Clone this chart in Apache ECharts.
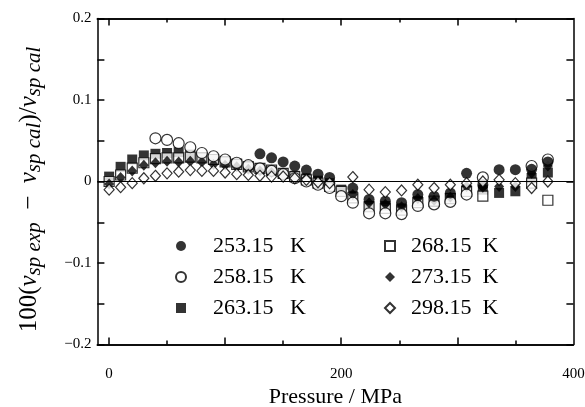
<!DOCTYPE html>
<html><head><meta charset="utf-8">
<script src="https://cdn.jsdelivr.net/npm/echarts@6/dist/echarts.min.js"></script>
<style>html,body{margin:0;padding:0;background:#fff}#c{width:585px;height:407px}</style>
</head><body><div id="c"></div>
<script>
const seriesNames = ['253.15 K','258.15 K','263.15 K','268.15 K','273.15 K','298.15 K'];

const p253 = [130,140,150,160,170,180,190,210,224,238,252,266,280,294,308,322,336,350,364,378];
const v253 = [0.034,0.029,0.024,0.019,0.014,0.009,0.005,-0.008,-0.022,-0.024,-0.026,-0.016,-0.018,-0.014,0.010,-0.004,0.0145,0.0145,0.015,0.024];

const p258 = [40,50,60,70,80,90,100,110,120,130,140,150,160,170,180,190,200,210,224,238,252,266,280,294,308,322,364,378];
const v258 = [0.053,0.051,0.047,0.042,0.035,0.031,0.027,0.023,0.020,0.016,0.013,0.009,0.004,0.000,-0.004,-0.008,-0.018,-0.026,-0.039,-0.039,-0.040,-0.030,-0.028,-0.025,-0.016,0.005,0.019,0.027];

const p263 = [0.1,10,20,30,40,50,60,70,80,90,100,110,120,130,140,150,160,170,180,190,200,210,224,238,252,266,280,294,308,322,336,350,364,378];
const v263 = [0.006,0.018,0.027,0.032,0.034,0.035,0.036,0.033,0.030,0.027,0.025,0.022,0.019,0.016,0.013,0.010,0.007,0.004,0.001,-0.002,-0.010,-0.018,-0.030,-0.030,-0.033,-0.024,-0.025,-0.020,-0.010,-0.010,-0.014,-0.012,0.004,0.011];

const p268 = [0.1,10,20,30,40,50,60,70,80,90,100,110,120,130,140,150,160,170,180,190,200,210,224,238,252,266,280,294,308,322,364,378];
const v268 = [0.000,0.008,0.0165,0.023,0.028,0.029,0.029,0.030,0.029,0.027,0.024,0.021,0.018,0.016,0.014,0.010,0.006,0.002,-0.002,-0.006,-0.012,-0.020,-0.031,-0.033,-0.035,-0.026,-0.024,-0.021,-0.012,-0.018,-0.002,-0.023];

const p273 = [0.1,10,20,30,40,50,60,70,80,90,100,110,120,130,140,150,160,170,180,190,210,224,238,252,266,280,294,308,322,336,350,364,378];
const v273 = [-0.003,0.005,0.013,0.020,0.023,0.025,0.024,0.025,0.024,0.021,0.020,0.018,0.015,0.013,0.011,0.008,0.005,0.003,0.000,-0.003,-0.016,-0.026,-0.028,-0.031,-0.021,-0.023,-0.019,-0.006,-0.007,-0.006,-0.006,0.010,0.019];

const p298 = [0.1,10,20,30,40,50,60,70,80,90,100,110,120,130,140,150,160,170,180,190,210,224,238,252,266,280,294,308,322,336,350,364,378];
const v298 = [-0.010,-0.007,-0.002,0.004,0.007,0.010,0.012,0.014,0.013,0.013,0.011,0.009,0.008,0.007,0.006,0.006,0.004,0.002,-0.001,-0.002,0.0055,-0.010,-0.013,-0.011,-0.004,-0.008,-0.004,-0.002,0.000,0.002,-0.002,-0.008,0.000];

const xTickLabels = [0,200,400];
const xMajorTicks = [0,100,200,300];
const xMinorTicks = [50,150,250,350];
const yTickLabels = [-0.2,-0.1,0,0.1,0.2];

const FONT = 'Liberation Serif';
const zip = (p, v) => p.map((x, i) => [x, v[i]]);
const filled = {color:'#000'};
const open = {color:'#fff', borderColor:'#000', borderWidth:1.2};

const chart = echarts.init(document.getElementById('c'), null, {renderer:'canvas'});
const gridPos = {left:97.4, right:11.6, top:18.5, bottom:62.5, containLabel:false, outerBoundsMode:'none'};
const lineS = {color:'#000', width:1.5};

function xAx(pos, ticks, len, labels, extra) {
  return Object.assign({
    type:'value', gridIndex:0, position:pos, min:-10, max:400,
    axisLine:{show:true, onZero:false, lineStyle:lineS},
    axisTick:{show:true, inside:true, length:len, customValues:ticks, lineStyle:lineS},
    axisLabel: labels ? {show:true, customValues:labels, margin:22, fontSize:15, fontFamily:FONT, color:'#000'} : {show:false},
    splitLine:{show:false}
  }, extra || {});
}

const option = {
  animation:false,
  backgroundColor:'#fff',
  grid:[Object.assign({}, gridPos), Object.assign({}, gridPos)],
  xAxis:[
    xAx('bottom', xMajorTicks, 7, xTickLabels, {
      name:'Pressure / MPa', nameLocation:'middle', nameGap:42,
      nameTextStyle:{fontSize:22, fontFamily:FONT, color:'#000'}
    }),
    xAx('top', xMajorTicks, 7, null),
    xAx('bottom', xMinorTicks, 4, null, {gridIndex:1}),
    xAx('top', xMinorTicks, 4, null, {gridIndex:1})
  ],
  yAxis:[
    {type:'value', gridIndex:0, position:'left', min:-0.2, max:0.2, interval:0.05,
     axisLine:{show:true, onZero:false, lineStyle:lineS},
     axisTick:{show:true, inside:true, length:7, lineStyle:lineS},
     axisLabel:{customValues:yTickLabels, margin:6, fontSize:15, fontFamily:FONT, color:'#000',
       formatter: v => Math.abs(v) < 1e-9 ? '0' : (v < 0 ? '\u2212' : '') + Math.abs(v).toFixed(1)},
     splitLine:{show:false},
     name:'{n|100(}{i|v}{s|sp exp}{n|  \u2212  }{i|v}{s|sp cal}{n|)/}{i|v}{s|sp cal}',
     nameLocation:'middle', nameRotate:90, nameGap:52,
     nameTextStyle:{
       color:'#000', fontFamily:FONT, padding:[0,16,0,0],
       rich:{
         n:{fontSize:25, fontFamily:FONT, color:'#000', lineHeight:32, verticalAlign:'middle'},
         i:{fontSize:25, fontFamily:FONT, fontStyle:'italic', color:'#000', lineHeight:32, verticalAlign:'middle'},
         s:{fontSize:21, fontFamily:FONT, fontStyle:'italic', color:'#000', lineHeight:32, verticalAlign:'bottom'}
       }
     }},
    {type:'value', gridIndex:0, position:'right', min:-0.2, max:0.2, interval:0.05,
     axisLine:{show:true, onZero:false, lineStyle:lineS},
     axisTick:{show:true, inside:true, length:7, lineStyle:lineS},
     axisLabel:{show:false}, splitLine:{show:false}},
    {type:'value', gridIndex:1, min:-0.2, max:0.2, show:false}
  ],
  legend:[
    {data:seriesNames.slice(0,3), orient:'vertical', left:170, top:230, itemWidth:10, itemHeight:10, itemGap:9,
     formatter: n => '    ' + n.replace(' K','   K'),
     textStyle:{fontSize:22, fontFamily:FONT, color:'#000', lineHeight:22}},
    {data:seriesNames.slice(3,6), orient:'vertical', left:379, top:230, itemWidth:10, itemHeight:10, itemGap:9,
     formatter: n => '  ' + n.replace(' K','  K'),
     textStyle:{fontSize:22, fontFamily:FONT, color:'#000', lineHeight:22}}
  ],
  series:[
    {name:'263.15 K', type:'scatter', symbol:'rect', symbolSize:10, itemStyle:filled, data:zip(p263,v263),
     markLine:{silent:true, symbol:['none','none'], label:{show:false}, lineStyle:{color:'#000', width:1, type:'solid'}, data:[{yAxis:0}]}},
    {name:'268.15 K', type:'scatter', symbol:'rect', symbolSize:10, itemStyle:open, data:zip(p268,v268)},
    {name:'273.15 K', type:'scatter', symbol:'diamond', symbolSize:[10,11], itemStyle:filled, data:zip(p273,v273)},
    {name:'258.15 K', type:'scatter', symbol:'circle', symbolSize:11, itemStyle:open, data:zip(p258,v258)},
    {name:'253.15 K', type:'scatter', symbol:'circle', symbolSize:11, itemStyle:filled, data:zip(p253,v253)},
    {name:'298.15 K', type:'scatter', symbol:'diamond', symbolSize:[10,11], itemStyle:open, data:zip(p298,v298)}
  ]
};
chart.setOption(option);
</script></body></html>
